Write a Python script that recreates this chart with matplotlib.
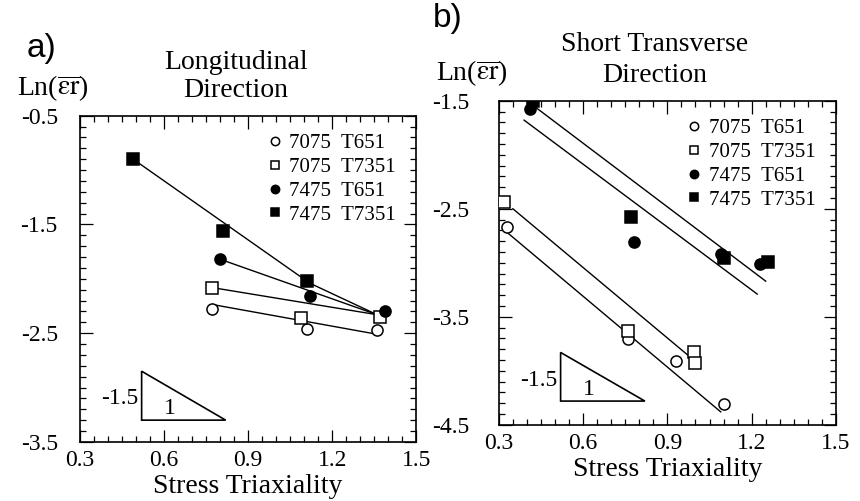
import matplotlib
matplotlib.use("Agg")
import matplotlib.pyplot as plt
from matplotlib.patches import Polygon

plt.rcParams['font.family'] = ['Liberation Serif', 'DejaVu Serif']
plt.rcParams['mathtext.fontset'] = 'stix'
plt.rcParams['axes.unicode_minus'] = False

# series order: 7075 T651, 7075 T7351, 7475 T651, 7475 T7351
labels = ['7075  T651', '7075  T7351', '7475  T651', '7475  T7351']
markers = ['o', 's', 'o', 's']
faces = ['white', 'white', 'black', 'black']

# panel a) longitudinal direction
a_x = [[0.77, 1.11, 1.36],
       [0.77, 1.09, 1.37],
       [0.80, 1.12, 1.39],
       [0.49, 0.81, 1.11]]
a_y = [[-2.28, -2.46, -2.47],
       [-2.08, -2.36, -2.35],
       [-1.82, -2.16, -2.30],
       [-0.90, -1.56, -2.02]]
a_line_x = [[0.78, 1.36],
            [0.77, 1.36],
            [0.80, 1.36],
            [0.49, 1.12, 1.36]]
a_line_y = [[-2.24, -2.51],
            [-2.08, -2.33],
            [-1.82, -2.33],
            [-0.90, -2.04, -2.33]]

# panel b) short transverse direction
b_x = [[0.33, 0.76, 0.93, 1.10],
       [0.32, 0.76, 0.995, 1.00],
       [0.41, 0.78, 1.09, 1.23],
       [0.42, 0.77, 1.10, 1.26]]
b_y = [[-2.67, -3.71, -3.91, -4.31],
       [-2.44, -3.63, -3.83, -3.93],
       [-1.58, -2.81, -2.92, -3.01],
       [-1.50, -2.58, -2.96, -2.99]]
b_line_x = [[0.33, 1.09],
            [0.35, 0.98],
            [0.39, 1.22],
            [0.41, 1.25]]
b_line_y = [[-2.72, -4.38],
            [-2.50, -3.87],
            [-1.68, -3.29],
            [-1.52, -3.17]]

# slope triangles (-1.5 : 1)
a_tri_x = [0.52, 0.52, 0.82]
a_tri_y = [-2.85, -3.30, -3.30]
b_tri_x = [0.52, 0.52, 0.82]
b_tri_y = [-3.83, -4.28, -4.28]


def draw_panel(ax, xs, ys, lxs, lys, tri_x, tri_y, ylim, yticks, ypad, ly):
    for lx, lyy in zip(lxs, lys):
        ax.plot(lx, lyy, color='black', lw=1.0, zorder=2)
    handles = []
    for x, y, m, fc in zip(xs, ys, markers, faces):
        h, = ax.plot(x, y, ls='none', marker=m, ms=8, mfc=fc, mec='black',
                     mew=1.1, zorder=3)
        handles.append(h)

    ax.add_patch(Polygon(list(zip(tri_x, tri_y)), closed=True, fill=False,
                         ec='black', lw=1.2))
    ax.text(tri_x[0] - 0.012, (tri_y[0] + tri_y[1]) / 2 - 0.03, '-1.5',
            ha='right', va='center', fontsize=17)
    ax.text(tri_x[0] + 0.1, tri_y[1] + 0.01, '1', ha='center', va='bottom',
            fontsize=17)

    ax.set_xlim(0.3, 1.5)
    ax.set_ylim(*ylim)
    ax.set_xticks([0.3, 0.6, 0.9, 1.2, 1.5])
    ax.set_xticks([0.3 + 0.05 * i for i in range(25)], minor=True)
    ax.set_yticks(yticks)
    ax.set_yticks([ylim[0] + 0.1 * i for i in range(31)], minor=True)
    ax.tick_params(which='both', direction='in', top=True, right=True,
                   labelsize=17, width=0.9)
    ax.tick_params(which='major', length=9)
    ax.tick_params(which='minor', length=4)
    ax.tick_params(axis='y', pad=ypad)
    ax.tick_params(axis='x', pad=6)
    for s in ax.spines.values():
        s.set_linewidth(1.2)
    ax.set_xlabel('Stress Triaxiality', fontsize=20, labelpad=2)
    ax.text(-0.08, ly, r'Ln($\overline{\mathrm{\varepsilon r}}$)',
            transform=ax.transAxes, ha='center', va='center', fontsize=20)
    return handles


fig = plt.figure(figsize=(8.6, 5.01), dpi=100)
ax_a = fig.add_axes([0.093, 0.118, 0.391, 0.651])
ax_b = fig.add_axes([0.580, 0.152, 0.392, 0.647])

h = draw_panel(ax_a, a_x, a_y, a_line_x, a_line_y, a_tri_x, a_tri_y,
               (-3.5, -0.5), [-3.5, -2.5, -1.5, -0.5], 16, 1.085)
ax_a.legend(h, labels, loc='upper right', bbox_to_anchor=(0.965, 0.97),
            frameon=False, fontsize=15, handlelength=0.6, handletextpad=0.4,
            labelspacing=0.2, borderaxespad=0, markerscale=0.75)
ax_a.text(0.464, 1.12, 'Longitudinal\nDirection', transform=ax_a.transAxes,
          ha='center', va='center', fontsize=20, linespacing=1.2)

h = draw_panel(ax_b, b_x, b_y, b_line_x, b_line_y, b_tri_x, b_tri_y,
               (-4.5, -1.5), [-4.5, -3.5, -2.5, -1.5], 21, 1.085)
ax_b.legend(h, labels, loc='upper right', bbox_to_anchor=(0.965, 0.97),
            frameon=False, fontsize=15, handlelength=0.6, handletextpad=0.4,
            labelspacing=0.2, borderaxespad=0, markerscale=0.75)
ax_b.text(0.463, 1.125, 'Short Transverse\nDirection', transform=ax_b.transAxes,
          ha='center', va='center', fontsize=20, linespacing=1.3)

fig.text(0.048, 0.903, 'a)', family='Liberation Sans', fontsize=24,
         ha='center', va='center')
fig.text(0.521, 0.963, 'b)', family='Liberation Sans', fontsize=24,
         ha='center', va='center')

fig.savefig('out.png', dpi=100)
